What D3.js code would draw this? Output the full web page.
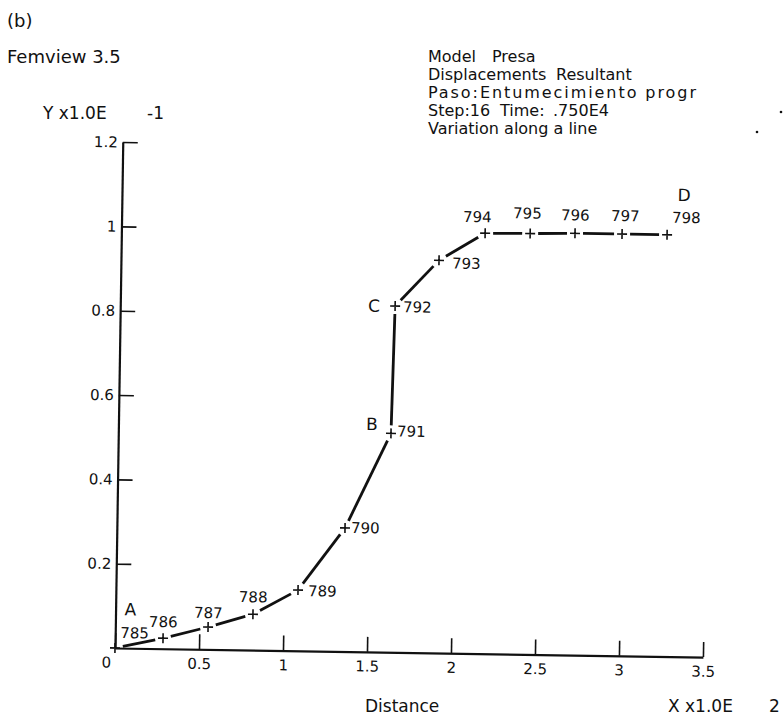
<!DOCTYPE html>
<html lang="en">
<head>
<meta charset="utf-8">
<title>Femview 3.5 - Variation along a line</title>
<script src="https://cdn.jsdelivr.net/npm/d3@7"></script>
<style>
  body { margin: 0; background: #fff; }
  svg { display: block; font-family: "DejaVu Sans", sans-serif; fill: #111; }
</style>
</head>
<body>
<div id="chart"></div>
<script>
// nodes along the line (A .. D)
const nodeIds      = [785, 786, 787, 788, 789, 790, 791, 792, 793, 794, 795, 796, 797, 798];
const distance     = [0, 0.285, 0.552, 0.818, 1.084, 1.358, 1.623, 1.636, 1.893, 2.165, 2.433, 2.70, 2.98, 3.248]; // X x1.0E 2
const displacement = [0, 0.025, 0.053, 0.085, 0.144, 0.293, 0.519, 0.821, 0.931, 0.997, 0.998, 1.0, 1.0, 1.0];       // Y x1.0E -1

const xTicks = [0, 0.5, 1, 1.5, 2, 2.5, 3, 3.5];
const yTicks = [0.2, 0.4, 0.6, 0.8, 1, 1.2];

const pointNames = ["A", "B", "C", "D"];
const pointNodes = [785, 791, 792, 798];

const headerRows = [
  ["Model", "Presa"],
  ["Displacements", "Resultant"],
  ["Paso:Entumecimiento progr"],
  ["Step:16", "Time:", ".750E4"],
  ["Variation along a line"]
];

var width = 784, height = 722;

const svg = d3.select("#chart")
  .append("svg")
    .attr("width", width)
    .attr("height", height);

// top-left texts
svg.append("text").attr("x", 7).attr("y", 27).style("font-size", "18px").text("(b)");
svg.append("text").attr("x", 7).attr("y", 63).style("font-size", "18px").text("Femview 3.5");
svg.append("text").attr("x", 43).attr("y", 119).style("font-size", "17px").text("Y x1.0E");
svg.append("text").attr("x", 147).attr("y", 119).style("font-size", "17px").text("-1");

// header block on the right (columns placed by hand)
const colX = [[428, 492], [428, 556], [428], [428, 500, 553], [428]];
headerRows.forEach(function(row, i) {
  row.forEach(function(s, j) {
    const t = svg.append("text")
      .attr("x", colX[i][j])
      .attr("y", 62 + i * 18)
      .style("font-size", "16px")
      .text(s);
    if (i === 2) t.attr("textLength", 268).attr("lengthAdjust", "spacing");
  });
});

// axis captions
svg.append("text").attr("x", 365).attr("y", 712).style("font-size", "17px").text("Distance");
svg.append("text").attr("x", 668).attr("y", 712).style("font-size", "17px").text("X x1.0E");
svg.append("text").attr("x", 769).attr("y", 712).style("font-size", "17px").text("2");

// scan specks
svg.append("circle").attr("cx", 781).attr("cy", 112).attr("r", 1.3);
svg.append("circle").attr("cx", 757).attr("cy", 132).attr("r", 1.3);

// plot area, the scanned sheet is a little bit rotated
const ox = 115, oy = 648;
const plot = svg.append("g")
  .attr("transform", `rotate(0.88, ${ox}, ${oy})`);

const x = d3.scaleLinear().domain([0, 3.5]).range([ox, 703]);
const y = d3.scaleLinear().domain([0, 1.2]).range([oy, 142]);

const xAxis = plot.append("g")
  .attr("transform", `translate(0, ${oy})`)
  .call(d3.axisBottom(x)
    .tickValues(xTicks)
    .tickFormat(d => String(d))
    .tickSizeInner(-15)
    .tickSizeOuter(0)
    .tickPadding(9));
xAxis.selectAll("text").style("font-size", "15px").style("font-family", "DejaVu Sans").attr("fill", "#111");
xAxis.selectAll(".tick").filter(d => d === 0).select("text").attr("x", -9);

const yAxis = plot.append("g")
  .attr("transform", `translate(${ox}, 0)`)
  .call(d3.axisLeft(y)
    .tickValues(yTicks)
    .tickFormat(d => String(d))
    .tickSizeInner(-15)
    .tickSizeOuter(0)
    .tickPadding(5));
yAxis.selectAll("text").style("font-size", "15px").style("font-family", "DejaVu Sans").attr("fill", "#111");

plot.selectAll(".domain").attr("stroke", "#111").attr("stroke-width", 2.2);
plot.selectAll(".tick line").attr("stroke", "#111").attr("stroke-width", 1.6);

// the data: broken segments between nodes
const pts = nodeIds.map(function(id, i) {
  return { id: id, px: x(distance[i]), py: y(displacement[i]) };
});

const gap = 8;
const segs = d3.pairs(pts).map(function(p) {
  const a = p[0], b = p[1];
  const len = Math.hypot(b.px - a.px, b.py - a.py);
  const ux = (b.px - a.px) / len, uy = (b.py - a.py) / len;
  return { x1: a.px + ux * gap, y1: a.py + uy * gap, x2: b.px - ux * gap, y2: b.py - uy * gap };
});

plot.append("g").selectAll("line")
  .data(segs)
  .enter()
  .append("line")
    .attr("x1", d => d.x1).attr("y1", d => d.y1)
    .attr("x2", d => d.x2).attr("y2", d => d.y2)
    .attr("stroke", "#111")
    .attr("stroke-width", 2.8);

// + markers
plot.append("g").selectAll("path")
  .data(pts)
  .enter()
  .append("path")
    .attr("d", d => `M${d.px - 5},${d.py}H${d.px + 5}M${d.px},${d.py - 5}V${d.py + 5}`)
    .attr("stroke", "#111")
    .attr("stroke-width", 1.6)
    .attr("fill", "none");

// where each node number sits relative to its marker
const labelOffset = {
  785: [5, -10, "start"],  786: [0, -11, "middle"], 787: [0, -9, "middle"],
  788: [0, -12, "middle"], 789: [10, 6, "start"],   790: [6, 5, "start"],
  791: [6, 3, "start"],    792: [8, 6, "start"],    793: [13, 8, "start"],
  794: [-8, -11, "middle"], 795: [-3, -15, "middle"], 796: [0, -13, "middle"],
  797: [3, -13, "middle"], 798: [19, -12, "middle"]
};

plot.append("g").selectAll("text")
  .data(pts)
  .enter()
  .append("text")
    .attr("x", d => d.px + labelOffset[d.id][0])
    .attr("y", d => d.py + labelOffset[d.id][1])
    .attr("text-anchor", d => labelOffset[d.id][2])
    .style("font-size", "15px")
    .text(d => d.id);

// A B C D
const nameOffset = { A: [9, -33], B: [-25, -3], C: [-27, 6], D: [10, -34] };
plot.append("g").selectAll("text")
  .data(pointNames)
  .enter()
  .append("text")
    .attr("x", function(d, i) { return pts[nodeIds.indexOf(pointNodes[i])].px + nameOffset[d][0]; })
    .attr("y", function(d, i) { return pts[nodeIds.indexOf(pointNodes[i])].py + nameOffset[d][1]; })
    .style("font-size", "17px")
    .text(d => d);
</script>
</body>
</html>
